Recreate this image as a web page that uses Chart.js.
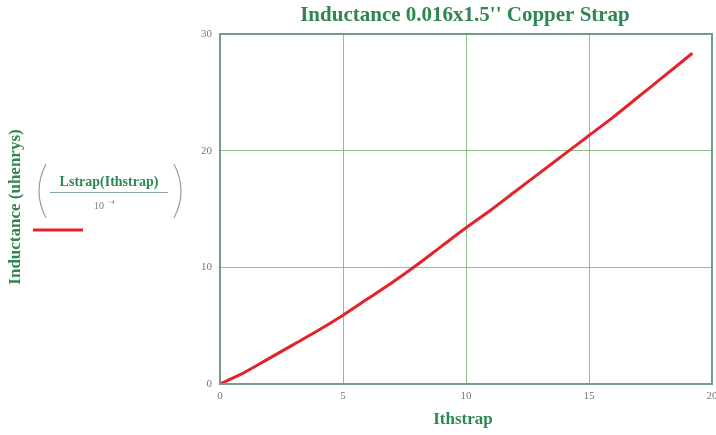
<!DOCTYPE html>
<html>
<head>
<meta charset="utf-8">
<script src="https://cdn.jsdelivr.net/npm/chart.js@4/dist/chart.umd.min.js"></script>
<style>
  html, body { margin: 0; padding: 0; background: #fff; }
  #wrap { width: 716px; height: 435px; position: relative; }
</style>
</head>
<body>
<div id="wrap"><canvas id="inductanceChart"></canvas></div>
<script>
// lengths of strap (x) and inductance
const strapLength = [0, 1, 2, 3, 4, 5, 6, 7, 8, 9, 10, 11, 12, 13, 14, 15, 16, 17, 18, 19.2];
const inductance = [0, 1.0, 2.2, 3.4, 4.6, 5.9, 7.3, 8.7, 10.2, 11.8, 13.4, 14.9, 16.5, 18.1, 19.7, 21.3, 22.9, 24.6, 26.3, 28.35];
const xTicks = [0, 5, 10, 15, 20];
const yTicks = [0, 10, 20, 30];

const titleText = "Inductance 0.016x1.5'' Copper Strap";
const yTitle = 'Inductance (uhenrys)';
const xTitle = 'Ithstrap';
const legendNum = 'Lstrap(Ithstrap)';

const green = '#2f8652';
const frameColor = '#6f9e85';
const gridColor = '#8cc28a';
const serif = '"Liberation Serif", "DejaVu Serif", serif';

const decorPlugin = {
  id: 'decor',
  afterDraw(chart) {
    const c = chart.ctx;
    const area = chart.chartArea;
    c.save();
    c.fillStyle = green;
    c.textAlign = 'center';
    c.textBaseline = 'middle';

    // title
    c.font = 'bold 21px ' + serif;
    c.fillText(titleText, 465, 16);

    // x title
    c.font = 'bold 17px ' + serif;
    c.fillText(xTitle, 463, 420);

    // y title
    c.save();
    c.translate(16, 207);
    c.rotate(-Math.PI / 2);
    c.font = 'bold 17px ' + serif;
    c.fillText(yTitle, 0, 0);
    c.restore();

    // legend fraction
    c.font = 'bold 14px ' + serif;
    c.fillText(legendNum, 109, 182);
    c.strokeStyle = '#8aa898';
    c.lineWidth = 1;
    c.beginPath();
    c.moveTo(50, 192.5);
    c.lineTo(168, 192.5);
    c.stroke();
    c.fillStyle = '#777';
    c.font = '10px ' + serif;
    c.fillText('10', 99, 206);
    c.font = '7px ' + serif;
    c.fillText('\u22124', 111, 202);

    // parentheses
    c.strokeStyle = '#9a9a9a';
    c.lineWidth = 1.2;
    c.beginPath();
    c.moveTo(46, 164);
    c.quadraticCurveTo(32, 191, 46, 218);
    c.stroke();
    c.beginPath();
    c.moveTo(174, 164);
    c.quadraticCurveTo(188, 191, 174, 218);
    c.stroke();

    // legend line
    c.strokeStyle = '#e3232a';
    c.lineWidth = 3;
    c.beginPath();
    c.moveTo(33, 230);
    c.lineTo(83, 230);
    c.stroke();

    // frame
    c.strokeStyle = frameColor;
    c.lineWidth = 2;
    c.strokeRect(area.left, area.top, area.right - area.left, area.bottom - area.top);
    c.restore();
  }
};

const ctx = document.getElementById('inductanceChart').getContext('2d');
new Chart(ctx, {
  type: 'line',
  data: {
    datasets: [{
      label: legendNum,
      data: strapLength.map((x, i) => ({ x: x, y: inductance[i] })),
      borderColor: '#e3232a',
      borderWidth: 3,
      pointRadius: 0,
      tension: 0.3,
      fill: false
    }]
  },
  options: {
    responsive: true,
    maintainAspectRatio: false,
    animation: false,
    layout: { padding: { top: 34, right: 4, left: 0, bottom: 0 } },
    plugins: { legend: { display: false }, tooltip: { enabled: false } },
    scales: {
      x: {
        type: 'linear',
        min: 0,
        max: 20,
        afterBuildTicks: (s) => { s.ticks = xTicks.map(v => ({ value: v })); },
        afterFit: (s) => { s.height = 51; s.paddingRight = 0; s.paddingLeft = 0; },
        grid: { color: gridColor, lineWidth: 1, drawTicks: false },
        border: { display: false },
        ticks: { color: '#777', font: { family: serif, size: 11 }, padding: 6, maxRotation: 0 }
      },
      y: {
        min: 0,
        max: 30,
        afterBuildTicks: (s) => { s.ticks = yTicks.map(v => ({ value: v })); },
        afterFit: (s) => { s.width = 220; s.paddingTop = 0; s.paddingBottom = 0; },
        grid: { color: gridColor, lineWidth: 1, drawTicks: false },
        border: { display: false },
        ticks: { color: '#777', font: { family: serif, size: 11 }, padding: 8 }
      }
    }
  },
  plugins: [decorPlugin]
});
</script>
</body>
</html>
